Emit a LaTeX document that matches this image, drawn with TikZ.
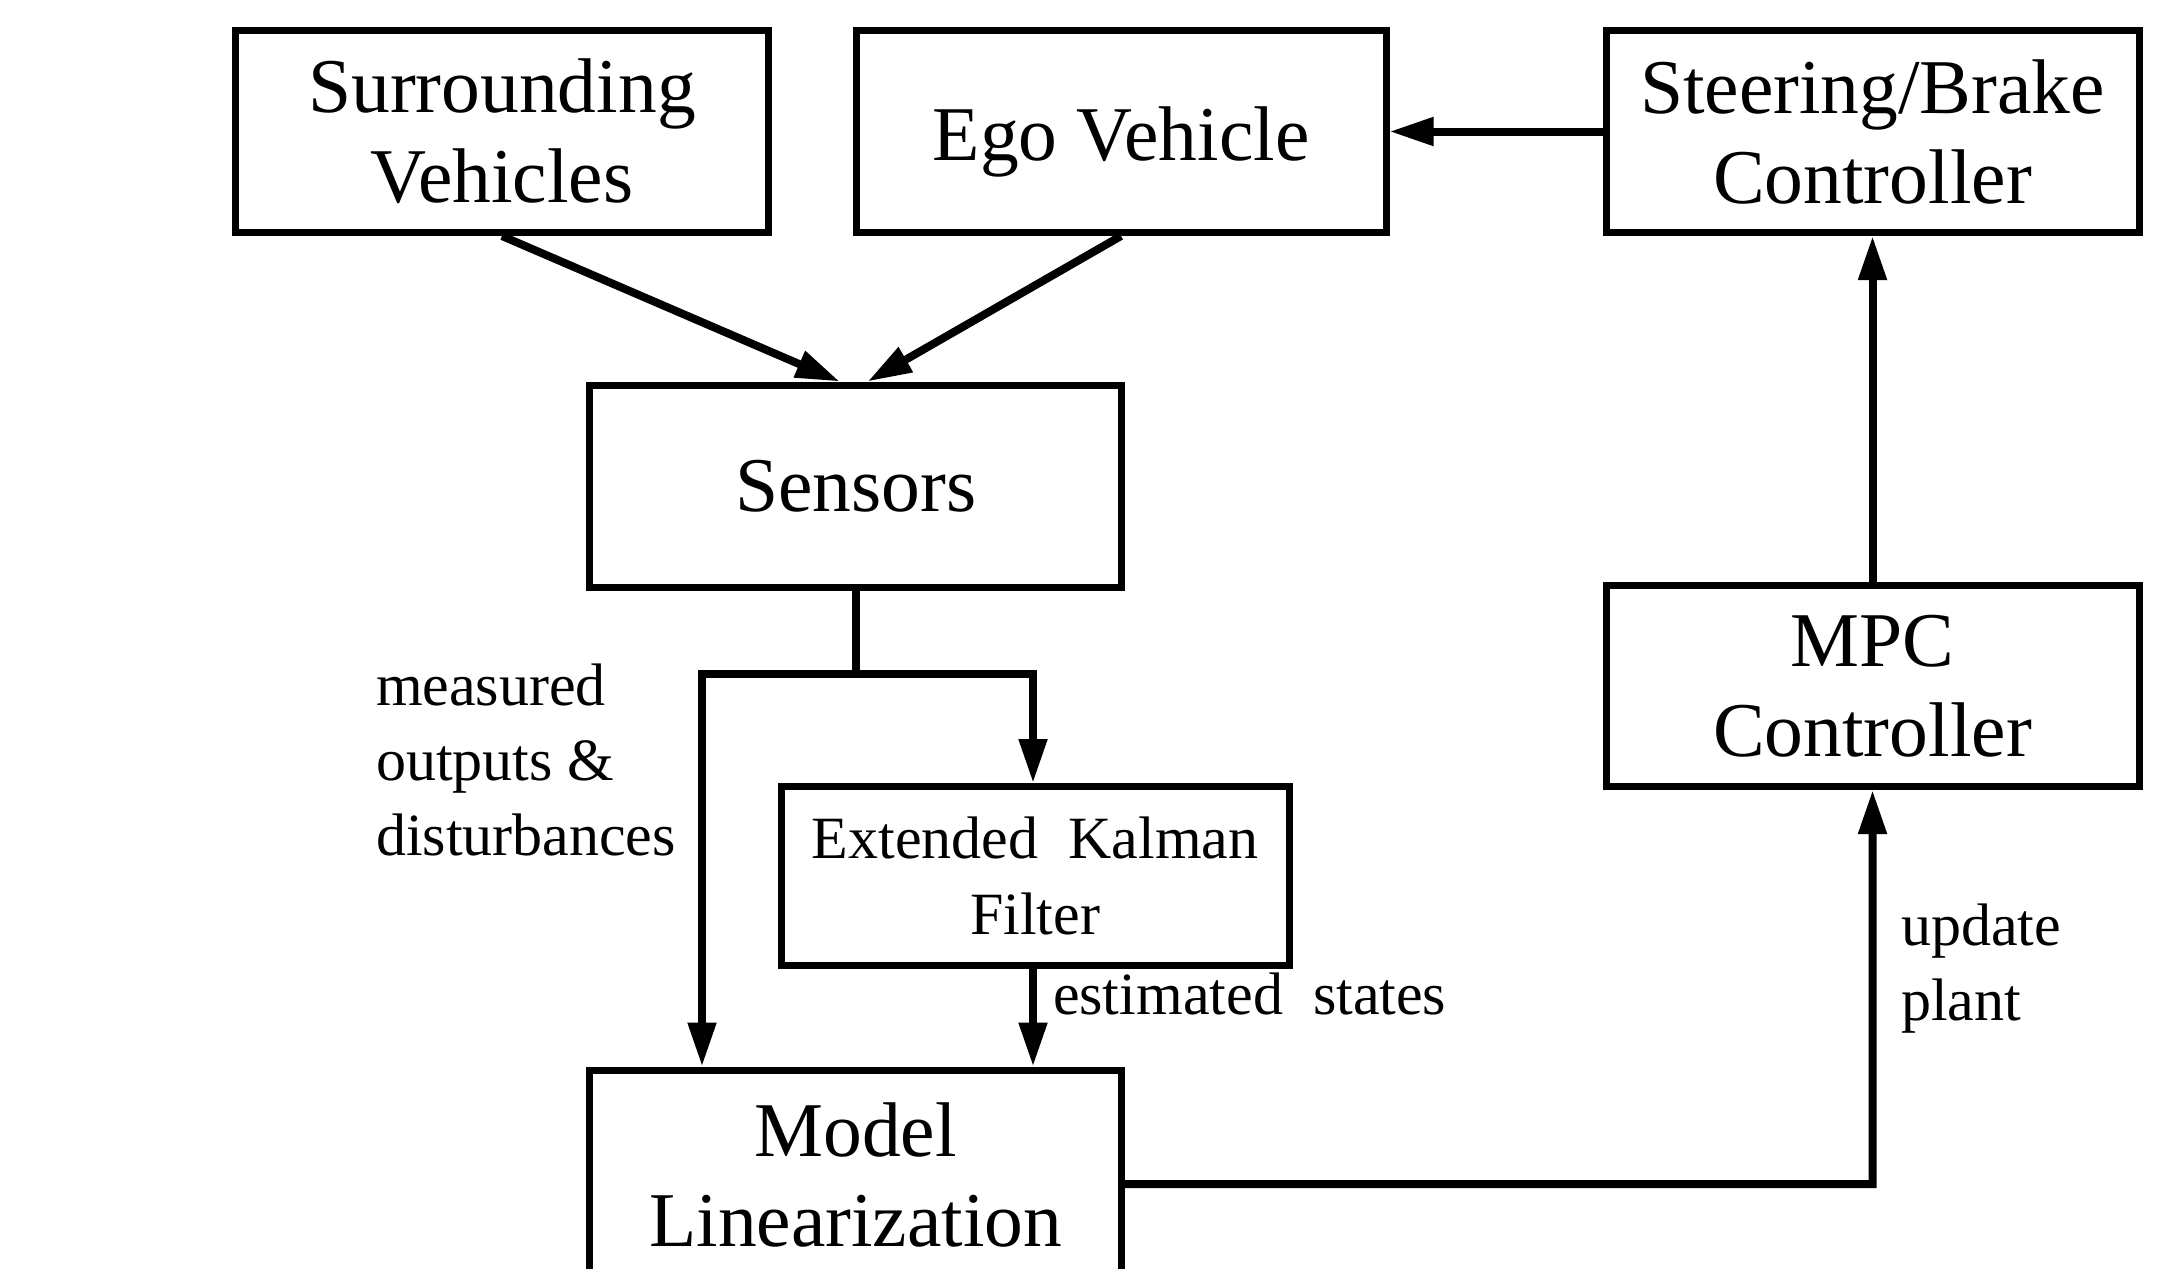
\documentclass[tikz,border=0pt]{standalone}
\usepackage{fontspec}
\setmainfont{Liberation Serif}
\usetikzlibrary{arrows.meta,positioning,calc}
\begin{document}
\begin{tikzpicture}[x=0.2pt,y=-0.2pt,
  block/.style={draw, line width=1.4pt, inner sep=0pt, align=center,
    font=\fontsize{15.5}{18}\selectfont},
  small/.style={inner sep=0pt, font=\fontsize{12}{15}\selectfont},
  conn/.style={line width=1.6pt, -{Triangle[length=8.8pt,width=5.4pt]}},
  plain/.style={line width=1.6pt}
]
\useasboundingbox (0,0) rectangle (2171,1268);
\node[block, minimum width=106.6pt, minimum height=40.4pt] (sur) at (502,131.5) {Surrounding\\Vehicles};
\node[block, minimum width=106pt, minimum height=40.4pt, text height=11.6pt, text depth=0pt] (ego) at (1121,131.5) {Ego Vehicle};
\node[block, minimum width=106.6pt, minimum height=40.4pt] (str) at (1872.5,131.5) {Steering/Brake\\Controller};
\node[block, minimum width=106.4pt, minimum height=40.4pt] (sen) at (855.7,486) {Sensors};
\node[block, minimum width=106.6pt, minimum height=40.2pt] (mpc) at (1872.5,686) {MPC\\Controller};
\node[block, font=\fontsize{12}{15.2}\selectfont, minimum width=101.6pt, minimum height=35.8pt] (ekf) at (1035,876) {Extended\ \ Kalman\\Filter};
\node[block, minimum width=106.4pt, minimum height=42pt] (mod) at (855.7,1175) {Model\\Linearization};

\coordinate (br) at (855.7,674);
\coordinate (bl) at (702,674);
\coordinate (bk) at (1033,674);
\coordinate (corner) at (1872.5,1184);

\draw[conn] (sur.south) -- ([xshift=-3.2pt]sen.north);
\draw[conn] (ego.south) -- ([xshift=2.4pt]sen.north);
\draw[conn] (str.west) -- (ego.east);
\draw[conn] (mpc.north) -- (str.south);
\draw[plain] (sen.south) -- (br);
\draw[plain, line cap=rect] (bl) -- (bk);
\draw[conn] (bk) -- (bk |- ekf.north);
\draw[conn] (bl) -- (bl |- mod.north);
\draw[conn] (bk |- ekf.south) -- (bk |- mod.north);
\draw[conn] ([yshift=-1.8pt]mod.east) -- (corner) -- (mpc.south);

\node[small, anchor=west, align=left] (lm) at (375,760) {measured\\outputs \&\\disturbances};
\node[small, anchor=west] (le) at (1052,994) {estimated\ \ states};
\node[small, anchor=west, align=left] (lu) at (1900,969) {update\\plant};
\end{tikzpicture}
\end{document}
